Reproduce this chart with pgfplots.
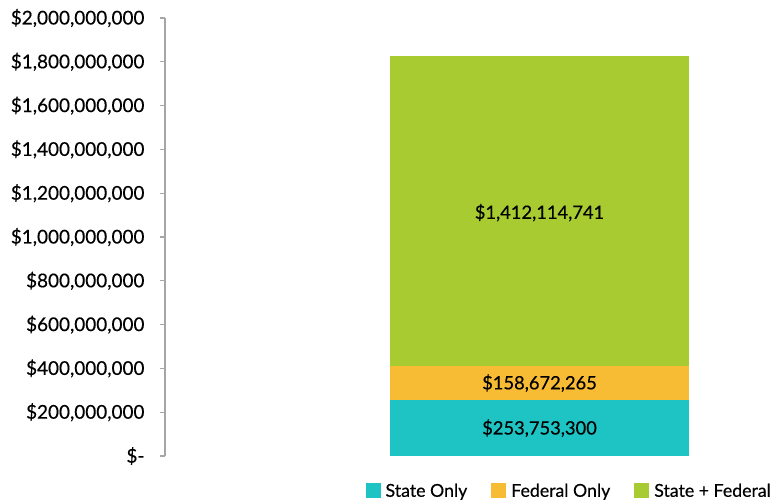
\documentclass[border=0pt]{standalone}
\usepackage{fontspec}
\setmainfont{Lato}[FakeBold=0.4]
\usepackage{pgfplots}
\pgfplotsset{compat=1.18}
\definecolor{cteal}{RGB}{30,196,196}
\definecolor{corange}{RGB}{248,187,52}
\definecolor{cgreen}{RGB}{168,203,50}
\definecolor{cgray}{RGB}{166,166,166}
\pgfplotsset{sqlegend/.style={legend image code/.code={\fill[##1] (0bp,-7bp) rectangle (15bp,8bp);}}}
\begin{document}
\begin{tikzpicture}
\useasboundingbox (0,0) rectangle (773bp,503bp);
\begin{axis}[
  at={(165bp,47bp)}, anchor=south west,
  scale only axis, width=608bp, height=438bp,
  xmin=0, xmax=1, ymin=0, ymax=2000000000,
  ybar stacked, bar width=299bp,
  axis x line=none, axis y line*=left,
  y axis line style={cgray, line width=1.2bp},
  ytick={0,200000000,400000000,600000000,800000000,1000000000,1200000000,1400000000,1600000000,1800000000,2000000000},
  yticklabels={{\$-},{\$200,000,000},{\$400,000,000},{\$600,000,000},{\$800,000,000},{\$1,000,000,000},{\$1,200,000,000},{\$1,400,000,000},{\$1,600,000,000},{\$1,800,000,000},{\$2,000,000,000}},
  scaled y ticks=false,
  ytick style={cgray, line width=1.2bp}, major tick length=5bp, tick align=outside,
  yticklabel style={font=\fontsize{19}{22}\selectfont, anchor=east, xshift=-12bp},
  legend columns=3,
  legend style={draw=none, fill=none, at={(1,0)}, anchor=east, yshift=-35bp, inner sep=0pt,
    font=\fontsize{17.8}{20}\selectfont,
    /tikz/every odd column/.append style={column sep=3bp},
    /tikz/every even column/.append style={column sep=22bp}},
]
\addplot[fill=cteal, draw=none, sqlegend] coordinates {(0.616,253753300)};
\addplot[fill=corange, draw=none, sqlegend] coordinates {(0.616,158672265)};
\addplot[fill=cgreen, draw=none, sqlegend] coordinates {(0.616,1412114741)};
\legend{State Only, Federal Only, State + Federal}
\coordinate (l1) at (axis cs:0.616,126876650);
\coordinate (l2) at (axis cs:0.616,333089433);
\coordinate (l3) at (axis cs:0.616,1118482936);
\end{axis}
\node[font=\fontsize{18.4}{21}\selectfont] at (l1) {\$253,753,300};
\node[font=\fontsize{18.4}{21}\selectfont] at (l2) {\$158,672,265};
\node[font=\fontsize{18.4}{21}\selectfont] at ([yshift=-1.5bp]l3) {\$1,412,114,741};
\end{tikzpicture}
\end{document}
